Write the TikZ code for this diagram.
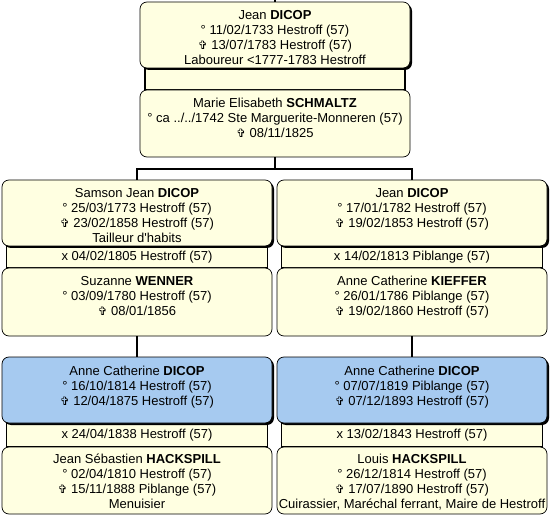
\documentclass[tikz,border=0pt]{standalone}
\usepackage{fontspec}
\setmainfont{Liberation Sans}
\newfontfamily\symfont{DejaVu Sans}
\usetikzlibrary{shadows}
\definecolor{cream}{HTML}{FFFFE1}
\definecolor{skyb}{HTML}{A6CAF0}
\newcommand\dc{{\symfont\fontsize{11.5}{15}\selectfont ✞}}
\begin{document}
\begin{tikzpicture}[x=1pt,y=-1pt,
 person/.style={draw=black, line width=0.7pt, rounded corners=7pt, fill=cream, minimum width=270pt, inner sep=0pt},
 mainp/.style={person, general shadow={fill=black, shadow xshift=2pt, shadow yshift=-2pt}},
 bluep/.style={mainp, fill=skyb},
 marr/.style={draw=black, line width=1.5pt, fill=cream, minimum width=261pt, minimum height=22pt, inner sep=0pt, font=\fontsize{13}{15}\selectfont},
 txt/.style={align=center, inner sep=0pt, anchor=north, font=\fontsize{13}{15}\selectfont},
 conn/.style={draw=black, line width=1.8pt}]
\useasboundingbox[fill=white] (0,0) rectangle (554,521);

% marriage bars
\node[marr, minimum width=260pt] (mA) at (275,79) {};
\node[marr] (mC) at (137,257) {x 04/02/1805 Hestroff (57)};
\node[marr] (mE) at (412,257) {x 14/02/1813 Piblange (57)};
\node[marr, minimum height=24pt] (mG) at (137,435) {x 24/04/1838 Hestroff (57)};
\node[marr, minimum height=24pt] (mI) at (412,435) {x 13/02/1843 Hestroff (57)};

% person boxes
\node[mainp, minimum height=66pt] (A) at (275,35) {};
\node[person, minimum height=67pt] (B) at (275,123.5) {};
\node[mainp, minimum height=66pt] (C) at (137,213) {};
\node[person, minimum height=68pt] (D) at (137,302) {};
\node[mainp, minimum height=66pt] (E) at (412,213) {};
\node[person, minimum height=68pt] (F) at (412,302) {};
\node[bluep, minimum height=66pt] (G) at (137,390) {};
\node[person, minimum height=67pt] (H) at (137,480.5) {};
\node[bluep, minimum height=66pt] (I) at (412,390) {};
\node[person, minimum height=67pt] (J) at (412,480.5) {};

% connectors
\coordinate (top) at (275,0);
\coordinate (j) at (275,169);
\draw[conn] (A.north) -- (top);
\draw[conn] (B.south) -- (j);
\draw[conn] (C.north) |- (j) -| (E.north);
\draw[conn] (D.south) -- (G.north);
\draw[conn] (F.south) -- (I.north);

% texts
\node[txt] (tA) at ([shift={(0,7)}]A.north) {\strut Jean \textbf{DICOP}\\° 11/02/1733 Hestroff (57)\\\dc\ 13/07/1783 Hestroff (57)\\Laboureur <1777-1783 Hestroff};
\node[txt] (tB) at ([shift={(0,7)}]B.north) {\strut Marie Elisabeth \textbf{SCHMALTZ}\\° ca ../../1742 Ste Marguerite-Monneren (57)\\\dc\ 08/11/1825};
\node[txt] (tC) at ([shift={(0,7)}]C.north) {\strut Samson Jean \textbf{DICOP}\\° 25/03/1773 Hestroff (57)\\\dc\ 23/02/1858 Hestroff (57)\\Tailleur d\textquotesingle habits};
\node[txt] (tD) at ([shift={(0,7)}]D.north) {\strut Suzanne \textbf{WENNER}\\° 03/09/1780 Hestroff (57)\\\dc\ 08/01/1856};
\node[txt] (tE) at ([shift={(0,7)}]E.north) {\strut Jean \textbf{DICOP}\\° 17/01/1782 Hestroff (57)\\\dc\ 19/02/1853 Hestroff (57)};
\node[txt] (tF) at ([shift={(0,7)}]F.north) {\strut Anne Catherine \textbf{KIEFFER}\\° 26/01/1786 Piblange (57)\\\dc\ 19/02/1860 Hestroff (57)};
\node[txt] (tG) at ([shift={(0,8)}]G.north) {\strut Anne Catherine \textbf{DICOP}\\° 16/10/1814 Hestroff (57)\\\dc\ 12/04/1875 Hestroff (57)};
\node[txt] (tH) at ([shift={(0,6)}]H.north) {\strut Jean Sébastien \textbf{HACKSPILL}\\° 02/04/1810 Hestroff (57)\\\dc\ 15/11/1888 Piblange (57)\\Menuisier};
\node[txt] (tI) at ([shift={(0,8)}]I.north) {\strut Anne Catherine \textbf{DICOP}\\° 07/07/1819 Piblange (57)\\\dc\ 07/12/1893 Hestroff (57)};
\node[txt] (tJ) at ([shift={(0,6)}]J.north) {\strut Louis \textbf{HACKSPILL}\\° 26/12/1814 Hestroff (57)\\\dc\ 17/07/1890 Hestroff (57)\\Cuirassier, Maréchal ferrant, Maire de Hestroff};
\end{tikzpicture}
\end{document}
